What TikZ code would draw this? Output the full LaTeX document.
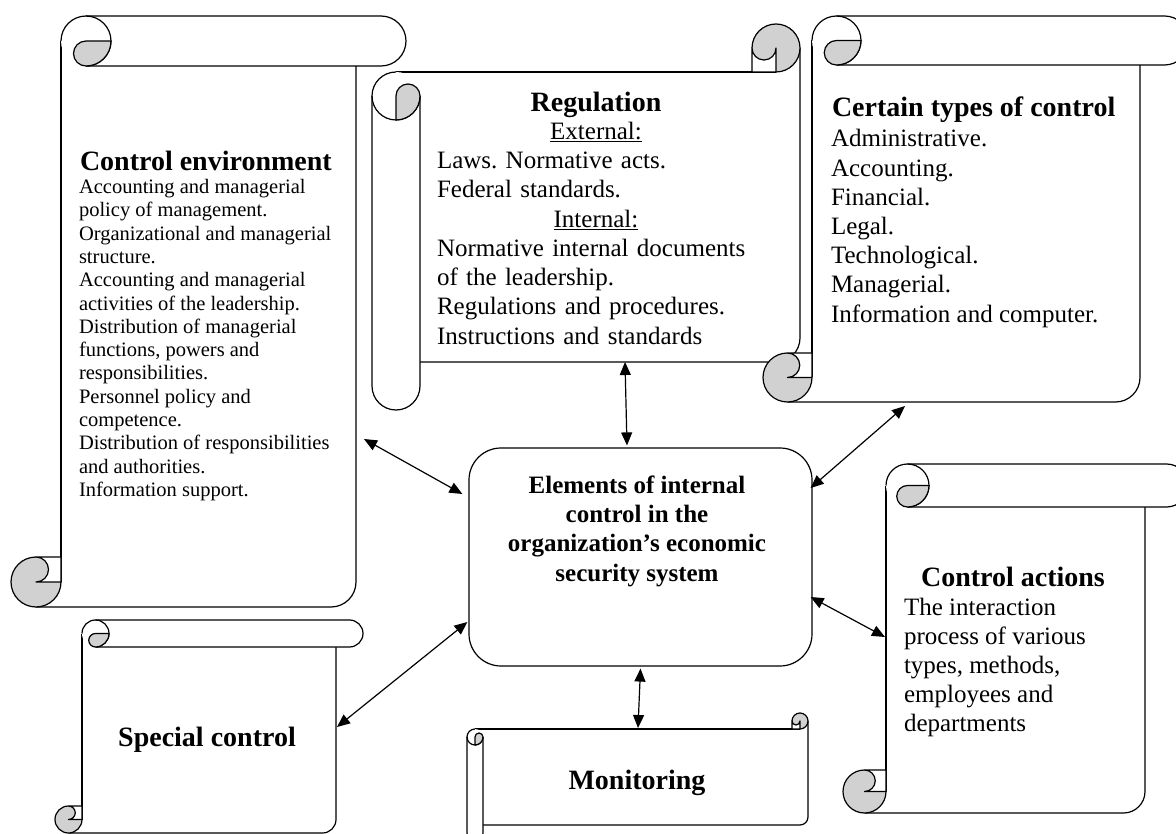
\documentclass[tikz,border=0pt]{standalone}
\usepackage{fontspec}
\setmainfont{Liberation Serif}
\usetikzlibrary{arrows.meta}
\definecolor{curlgray}{gray}{0.82}
\frenchspacing
\newcommand\fsz[2]{\fontsize{#1}{#2}\selectfont}
% horizontal scroll in local coordinates (x right, y down): L T R B c
\newcommand\scrollH[5]{%
  \pgfmathsetmacro\qL{#1}\pgfmathsetmacro\qT{#2}\pgfmathsetmacro\qR{#3}\pgfmathsetmacro\qB{#4}%
  \pgfmathsetmacro\qc{#5}\pgfmathsetmacro\qr{#5/2}\pgfmathsetmacro\qq{#5/4}%
  \pgfmathsetmacro\qxB{\qL+\qr}\pgfmathsetmacro\qxC{\qL+\qc}\pgfmathsetmacro\qxD{\qL+\qc+\qr}%
  \pgfmathsetmacro\qxE{\qR-\qc}\pgfmathsetmacro\qxF{\qR-\qr}\pgfmathsetmacro\qxG{\qxE-\qr}%
  \pgfmathsetmacro\qyB{\qT+\qr}\pgfmathsetmacro\qyC{\qT+\qc}\pgfmathsetmacro\qyD{\qB-\qc}\pgfmathsetmacro\qyE{\qB-\qr}%
  \pgfmathsetmacro\qxH{\qxD+\qr}%
  % body
  \fill[white] (\qxC,\qyC) -- (\qxC,\qB) -- (\qxG,\qB) arc (90:0:\qr) -- (\qxE,\qyC) -- cycle;
  \draw[scrline] (\qxC,\qyB) -- (\qxC,\qyE);
  \draw[scrline] (\qxB,\qB) -- (\qxG,\qB) arc (90:0:\qr) -- (\qxE,\qyC);
  % top roll
  \fill[white] (\qxC,\qyB) arc (180:270:\qr) -- (\qxF,\qT) arc (-90:90:\qr) -- (\qxD,\qyC) arc (90:180:\qr) -- cycle;
  \draw[scrline] (\qxC,\qyB) arc (180:270:\qr) -- (\qxF,\qT) arc (-90:90:\qr) -- (\qxD,\qyC);
  \draw[scrline] (\qxD,\qT) arc (-90:90:\qr);
  \filldraw[scrline,fill=curlgray] (\qxD,\qyB) -- (\qxH,\qyB) arc (0:90:\qr) arc (90:270:\qq) -- cycle;
  % bottom curl
  \fill[curlgray] (\qxB,\qyE) circle (\qr);
  \draw[scrline] (\qxC,\qyE) arc (0:270:\qr);
  \filldraw[scrline,fill=white] (\qxB,\qyD) -- (\qxC,\qyD) -- (\qxC,\qyE) -- (\qxB,\qyE) arc (90:-90:\qq) -- cycle;
}
% vertical scroll in screen coordinates: L T R B c
\newcommand\scrollV[5]{%
  \begin{scope}[cm={0,-1,-1,0,(0,0)}]
    \scrollH{#2}{#1}{#4}{#3}{#5}
  \end{scope}}
\begin{document}
\begin{tikzpicture}[x=1pt,y=-1pt,
  scrline/.style={line width=1.2pt,line join=round},
  box/.style={inner sep=0pt,outer sep=0pt,draw=none},
  txt/.style={inner sep=0pt,outer sep=0pt,align=left},
  head/.style={inner sep=0pt,outer sep=0pt,font=\bfseries\fsz{28}{32}},
  conn/.style={{Triangle[length=13pt,width=11pt]}-{Triangle[length=13pt,width=11pt]},line width=1.2pt}]
\useasboundingbox (0,0) rectangle (1176,834);
\begin{scope}
  \clip (0,0) rectangle (1176,834);
  \scrollH{11}{16}{406}{607}{50}
  \scrollH{55}{620}{363}{833}{27}
  \scrollV{372}{24}{800}{410}{48}
  \scrollV{467}{713}{808}{841}{16}
  \scrollH{763}{16}{1189}{402}{49}
  \scrollH{843}{464}{1188}{813}{43}
\end{scope}
% body areas of the scrolls
\node[box,minimum width=295pt,minimum height=541pt] (env) at (208.5,336.5) {};
\node[box,minimum width=380pt,minimum height=290pt] (reg) at (610,217) {};
\node[box,minimum width=328pt,minimum height=337pt] (cert) at (976,233.5) {};
\node[box,minimum width=259pt,minimum height=306pt] (act) at (1015.5,660) {};
\node[box,minimum width=254pt,minimum height=186pt] (spec) at (209,740) {};
\node[box,minimum width=325pt,minimum height=96pt] (mon) at (645.5,777) {};
% centre
\node[draw,line width=1.2pt,rounded corners=32pt,minimum width=343pt,minimum height=218pt,inner sep=0pt] (center) at (640.5,557) {};
\node[inner sep=0pt,align=center,font=\bfseries\fsz{25}{29.3}] (centertext) at (637,531)
  {Elements of internal\\control in the\\organization's economic\\security system};
% texts
\node[head,anchor=base west] (envhead) at (80,171) {Control environment};
\node[txt,anchor=north west,font=\fsz{20.5}{23.3}] (envtext) at (79,177.5)
  {\rule{0pt}{16pt}Accounting and managerial\\policy of management.\\Organizational and managerial\\structure.\\Accounting and managerial\\activities of the leadership.\\Distribution of managerial\\functions, powers and\\responsibilities.\\Personnel policy and\\competence.\\Distribution of responsibilities\\and authorities.\\Information support.};
\node[head,anchor=base] (reghead) at (596,112) {Regulation};
\node[txt,anchor=north west,text width=318pt,font=\fsz{25}{29.25}] (regtext) at (437,121.5)
  {\hbox to \hsize{\hfil\rule{0pt}{18pt}\underline{External:}\hfil}
   Laws. Normative acts.\\Federal standards.\\
   \hbox to \hsize{\hfil\underline{Internal:}\hfil}
   Normative internal documents\\of the leadership.\\Regulations and procedures.\\Instructions and standards};
\node[head,anchor=base west] (certhead) at (832,117) {Certain types of control};
\node[txt,anchor=north west,font=\fsz{25}{29.2}] (certtext) at (831,129)
  {\rule{0pt}{18pt}Administrative.\\Accounting.\\Financial.\\Legal.\\Technological.\\Managerial.\\Information and computer.};
\node[head,anchor=base] (acthead) at (1013,586) {Control actions};
\node[txt,anchor=north west,font=\fsz{25}{29.2}] (acttext) at (904,597)
  {\rule{0pt}{18pt}The interaction\\process of various\\types, methods,\\employees and\\departments};
\node[head,anchor=base] (spectext) at (207,746) {Special control};
\node[head,anchor=base] (montext) at (637,789) {Monitoring};
% connectors
\draw[conn] ([xshift=8pt,yshift=-102.5pt]env.east) -- ([xshift=-6pt,yshift=63pt]center.west);
\draw[conn] ([xshift=15pt]reg.south) -- ([xshift=-13.5pt,yshift=2pt]center.north);
\draw[conn] ([xshift=-71pt,yshift=-4pt]cert.south) -- ([xshift=-2pt,yshift=69pt]center.east);
\draw[conn] ([xshift=-1pt,yshift=23pt]act.west) -- ([xshift=-2pt,yshift=-40pt]center.east);
\draw[conn] ([xshift=1pt,yshift=13pt]spec.east) -- ([xshift=-1pt,yshift=-65pt]center.west);
\draw[conn] ([xshift=-7.5pt,yshift=1pt]mon.north) -- ([yshift=-2pt]center.south);
\end{tikzpicture}
\end{document}
